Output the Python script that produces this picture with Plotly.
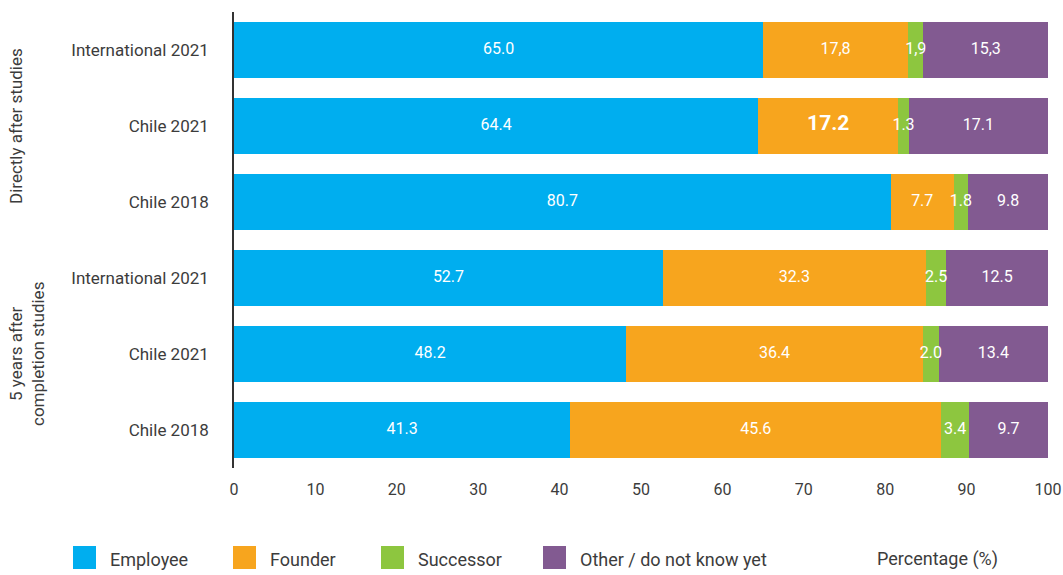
import plotly.graph_objects as go

categories = ["International 2021", "Chile 2021", "Chile 2018",
              "International 2021", "Chile 2021", "Chile 2018"]
groups = ["Directly after studies", "5 years after<br>completion studies"]

series_names = ["Employee", "Founder", "Successor", "Other / do not know yet"]
employee = [65.0, 64.4, 80.7, 52.7, 48.2, 41.3]
founder = [17.8, 17.2, 7.7, 32.3, 36.4, 45.6]
successor = [1.9, 1.3, 1.8, 2.5, 2.0, 3.4]
other = [15.3, 17.1, 9.8, 12.5, 13.4, 9.7]

employee_labels = ["65.0", "64.4", "80.7", "52.7", "48.2", "41.3"]
founder_labels = ["17,8", "<span style='font-size:21px'><b>17.2</b></span>", "7.7", "32.3", "36.4", "45.6"]
successor_labels = ["1,9", "1.3", "1.8", "2.5", "2.0", "3.4"]
other_labels = ["15,3", "17.1", "9.8", "12.5", "13.4", "9.7"]

colors = ["#00AEEF", "#F7A51E", "#8DC63F", "#825A91"]
x_ticks = [0, 10, 20, 30, 40, 50, 60, 70, 80, 90, 100]

FONT = "Roboto"
TXT = "#3c3c3c"

ypos = list(range(len(categories)))

fig = go.Figure()
all_vals = [employee, founder, successor, other]
all_labels = [employee_labels, founder_labels, successor_labels, other_labels]

for name, vals, col in zip(series_names, all_vals, colors):
    fig.add_trace(go.Bar(
        y=ypos, x=vals, orientation="h", name=name,
        marker=dict(color=col, line=dict(width=0)),
        showlegend=False, hoverinfo="x+name",
    ))

# value labels drawn on top of all bars, centred in each stacked segment
base = [0.0] * len(ypos)
for vals, labels in zip(all_vals, all_labels):
    mids = [b + v / 2 for b, v in zip(base, vals)]
    fig.add_trace(go.Scatter(
        x=mids, y=ypos, mode="text", text=labels,
        textposition="middle center",
        textfont=dict(color="white", size=16, family=FONT),
        showlegend=False, hoverinfo="skip", cliponaxis=False,
    ))
    base = [b + v for b, v in zip(base, vals)]

fig.update_layout(
    barmode="stack", bargap=0.27,
    width=1063, height=575,
    margin=dict(l=234, r=15, t=12, b=107, autoexpand=False),
    plot_bgcolor="white", paper_bgcolor="white",
    font=dict(family=FONT, size=17, color=TXT),
    xaxis=dict(range=[0, 100], tickvals=x_ticks, showgrid=False, zeroline=False,
               showline=False, ticks="", automargin=False, ticklabelstandoff=10,
               tickfont=dict(size=16, color=TXT)),
    yaxis=dict(tickvals=ypos, ticktext=categories, range=[5.5, -0.5],
               showgrid=False, zeroline=False, showline=True, linecolor="#333333",
               linewidth=1.5, ticks="", ticklabelstandoff=20, automargin=False,
               tickfont=dict(size=17, color=TXT)),
)

# group labels (rotated)
fig.add_annotation(text=groups[0], xref="paper", yref="y", x=(16 - 234) / 814, y=1,
                   textangle=-90, showarrow=False, font=dict(size=17, color=TXT),
                   xanchor="center", yanchor="middle")
fig.add_annotation(text=groups[1], xref="paper", yref="y", x=(27 - 234) / 814, y=4,
                   textangle=-90, showarrow=False, font=dict(size=17, color=TXT),
                   xanchor="center", yanchor="middle")

# custom legend at bottom
leg_x = [73, 233, 381, 543]
for name, col, lx in zip(series_names, colors, leg_x):
    fig.add_shape(type="rect", xref="paper", yref="paper",
                  x0=(lx - 234) / 814, x1=(lx + 23 - 234) / 814,
                  y0=-(546 - 468) / 456, y1=-(569 - 468) / 456,
                  fillcolor=col, line=dict(width=0))
    fig.add_annotation(text=name, xref="paper", yref="paper",
                       x=(lx + 35 - 234) / 814, y=-(559 - 468) / 456,
                       xanchor="left", yanchor="middle", showarrow=False,
                       font=dict(size=18, color=TXT))
fig.add_annotation(text="Percentage (%)", xref="paper", yref="paper",
                   x=(875 - 234) / 814, y=-(559 - 468) / 456,
                   xanchor="left", yanchor="middle", showarrow=False,
                   font=dict(size=18, color=TXT))

fig.write_html("out.html", config={"displayModeBar": False},
               post_script="document.body.style.margin='0';document.body.style.overflow='hidden';")
